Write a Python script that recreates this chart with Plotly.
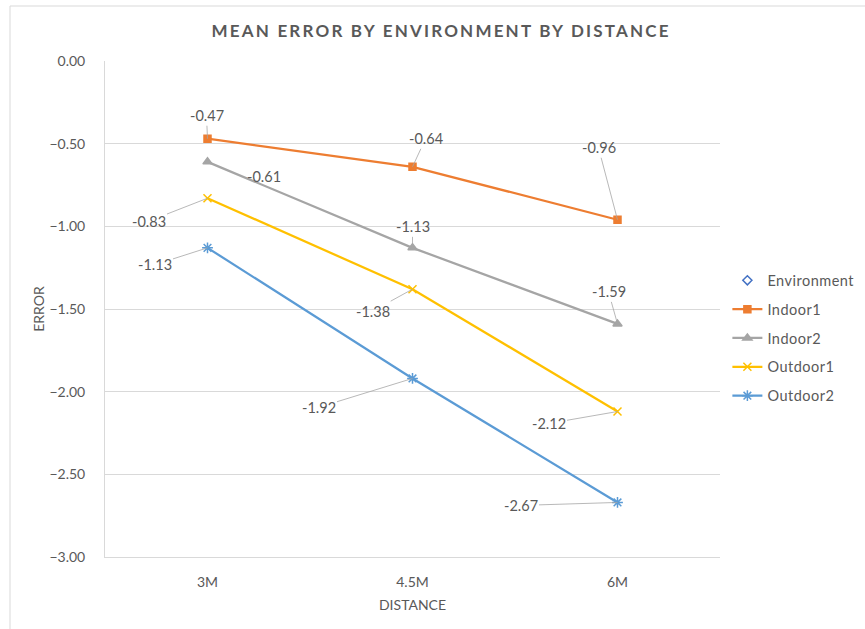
import plotly.graph_objects as go

categories = ["3M", "4.5M", "6M"]
indoor1 = [-0.47, -0.64, -0.96]
indoor2 = [-0.61, -1.13, -1.59]
outdoor1 = [-0.83, -1.38, -2.12]
outdoor2 = [-1.13, -1.92, -2.67]
y_ticks = [0, -0.5, -1.0, -1.5, -2.0, -2.5, -3.0]

series = [
    ("Indoor1", indoor1, "#ED7D31", "square", 7),
    ("Indoor2", indoor2, "#A5A5A5", "triangle-up", 8),
    ("Outdoor1", outdoor1, "#FFC000", "x-thin-open", 8),
    ("Outdoor2", outdoor2, "#5B9BD5", "asterisk-open", 9),
]

# label offsets (pixels) for data labels: (ax, ay, show_leader)
label_offsets = {
    "Indoor1": [(-1, -23, True), (13, -28, True), (-19, -72, True)],
    "Indoor2": [(56, 15, False), (0, -21, True), (-9, -32, True)],
    "Outdoor1": [(-59, 23, True), (-40, 22, True), (-69, 12, True)],
    "Outdoor2": [(-53, 17, True), (-94, 29, True), (-97, 3, True)],
}

FONT = "Lato, 'Open Sans', sans-serif"
TXT = "#595959"
LS = "letter-spacing:0.5px"

def sp(t, ls=LS):
    return f'<span style="{ls}">{t}</span>'

fig = go.Figure()
fig.add_trace(go.Scatter(
    x=[None], y=[None], mode="markers", name=sp("Environment"),
    marker=dict(symbol="diamond-open", color="#4472C4", size=7, line=dict(width=1.5)),
    legendgroup="env",
))
for name, vals, color, sym, size in series:
    fig.add_trace(go.Scatter(
        x=categories, y=vals, mode="lines+markers", name=sp(name),
        line=dict(color=color, width=2.25),
        marker=dict(symbol=sym, color=color, size=size, line=dict(color=color, width=1.5)),
        legendgroup=name,
    ))

annotations = []
for name, vals, color, sym, size in series:
    for i, (cat, v) in enumerate(zip(categories, vals)):
        ax, ay, show = label_offsets[name][i]
        a = dict(x=cat, y=v, xref="x", yref="y", text=f"{v:.2f}",
                 font=dict(family=FONT, size=14.5, color=TXT))
        if show:
            a.update(showarrow=True, ax=ax, ay=ay, arrowhead=0, arrowwidth=0.8,
                     arrowcolor="#A6A6A6", standoff=0, startstandoff=0)
        else:
            a.update(showarrow=False, xshift=ax, yshift=-ay)
        annotations.append(a)

fig.update_layout(
    width=865, height=629,
    margin=dict(l=105, r=145, t=61, b=72, autoexpand=False),
    paper_bgcolor="white", plot_bgcolor="white",
    font=dict(family=FONT, color=TXT, size=14),
    title=dict(text=sp("<b>MEAN ERROR BY ENVIRONMENT BY DISTANCE</b>", "letter-spacing:2.2px"),
               x=0.51, xanchor="center", y=0.951, yanchor="middle",
               font=dict(family=FONT, size=17, color=TXT)),
    xaxis=dict(type="category", range=[-0.5, 2.5], showgrid=False, showline=True,
               linecolor="#D9D9D9", linewidth=1, ticks="", ticklabelstandoff=12,
               tickfont=dict(size=14, color=TXT),
               title=dict(text="DISTANCE", font=dict(size=14, color=TXT), standoff=11)),
    yaxis=dict(range=[-3.0, 0.0], tickvals=y_ticks, tickformat=".2f",
               showgrid=True, gridcolor="#D9D9D9", gridwidth=1, zeroline=False,
               showline=True, linecolor="#D9D9D9", ticks="", ticklabelstandoff=16,
               tickfont=dict(size=14, color=TXT),
               title=dict(text="ERROR", font=dict(size=14, color=TXT), standoff=1)),
    legend=dict(x=1.012, y=0.590, xanchor="left", yanchor="top", tracegroupgap=7,
                font=dict(size=14.5, color=TXT), bgcolor="rgba(0,0,0,0)", itemwidth=30),
    annotations=annotations,
    showlegend=True,
)
# outer chart border (left and top edges visible)
fig.add_shape(type="line", xref="paper", yref="paper",
              x0=(10 - 105) / 615, x1=(10 - 105) / 615, y0=(557 - 629) / 496, y1=(557 - 6) / 496,
              line=dict(color="#D9D9D9", width=1))
fig.add_shape(type="line", xref="paper", yref="paper",
              x0=(10 - 105) / 615, x1=(865 - 105) / 615, y0=(557 - 6) / 496, y1=(557 - 6) / 496,
              line=dict(color="#D9D9D9", width=1))

fig.write_html("out.html", config={"displayModeBar": False},
               post_script="document.body.style.margin='0';")
